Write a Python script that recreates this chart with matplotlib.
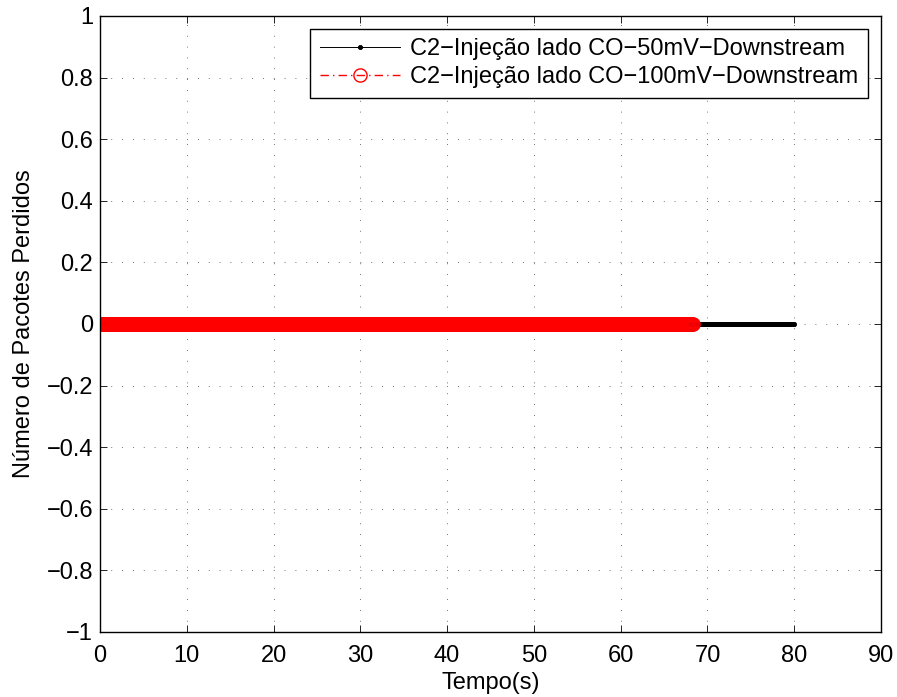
import numpy as np
import matplotlib
matplotlib.use("Agg")
import matplotlib.pyplot as plt

# ---- data ----
t_step = 0.1
t50_end = 80.0
t100_end = 68.3
t_50mV = np.arange(0, t50_end + t_step / 2, t_step)
t_100mV = np.arange(0, t100_end + t_step / 2, t_step)
lost_50mV = np.zeros_like(t_50mV)     # all samples read as 0
lost_100mV = np.zeros_like(t_100mV)   # all samples read as 0

label_50 = "C2\u2212Injeção lado CO\u221250mV\u2212Downstream"
label_100 = "C2\u2212Injeção lado CO\u2212100mV\u2212Downstream"
xticks = list(range(0, 91, 10))
yticks = [-1, -0.8, -0.6, -0.4, -0.2, 0, 0.2, 0.4, 0.6, 0.8, 1]
ytick_labels = ["\u22121", "\u22120.8", "\u22120.6", "\u22120.4", "\u22120.2",
                "0", "0.2", "0.4", "0.6", "0.8", "1"]

plt.rcParams['font.family'] = ['Liberation Sans', 'DejaVu Sans']
fs = 17

fig = plt.figure(figsize=(8.97, 6.97), dpi=100)
ax = fig.add_axes([100 / 897, 1 - 632 / 697, 781 / 897, 616 / 697])

ax.plot(t_50mV, lost_50mV, color='black', linestyle='-', linewidth=0.7,
        marker='o', markersize=3, markeredgewidth=0.6, label=label_50)
ax.plot(t_100mV, lost_100mV, color='red', linestyle=(0, (6, 3, 1, 3)),
        linewidth=1.0, marker='o', markersize=9.5, markerfacecolor='none',
        markeredgewidth=1.0, label=label_100)

ax.set_xlim(0, 90)
ax.set_ylim(-1, 1)
ax.set_xticks(xticks)
ax.set_yticks(yticks)
ax.set_yticklabels(ytick_labels)
ax.tick_params(axis='x', pad=9)
ax.tick_params(axis='y', pad=5)
ax.tick_params(direction='in', length=5, width=0.6, top=True, right=True,
               labelsize=fs)
ax.grid(True, linestyle=(0, (1, 12)), color='#444444', linewidth=0.6)
for s in ax.spines.values():
    s.set_linewidth(1.0)

ax.set_xlabel("Tempo(s)", fontsize=fs, labelpad=4)
ax.set_ylabel("Número de Pacotes Perdidos", fontsize=fs, labelpad=8)

leg = ax.legend(loc='upper right', fontsize=fs, numpoints=1, fancybox=False,
                edgecolor='black', framealpha=1, borderaxespad=0.55,
                handlelength=3.4, handletextpad=0.45, borderpad=0.4,
                labelspacing=0.25)
leg.get_frame().set_linewidth(1.0)

fig.savefig("out.png", dpi=100)
